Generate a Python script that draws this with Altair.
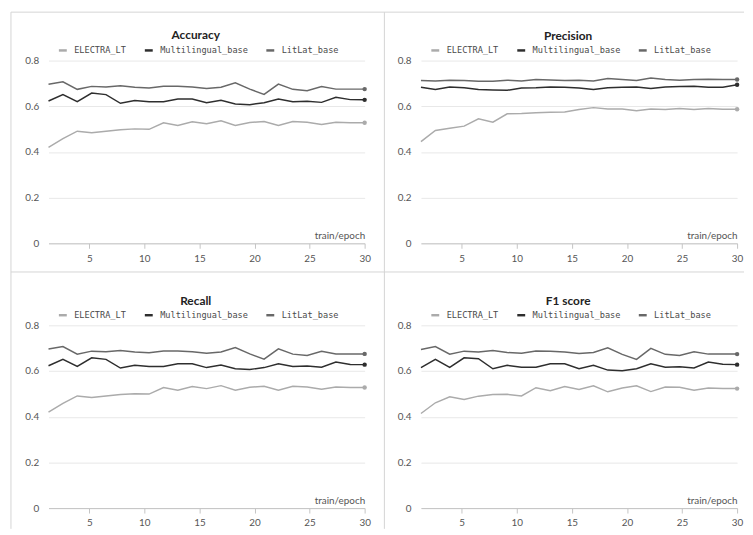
import altair as alt
import pandas as pd

# ---- data ----
epochs = [1.30, 2.61, 3.91, 5.22, 6.52, 7.83, 9.13, 10.43, 11.74, 13.04, 14.35, 15.65,
          16.96, 18.26, 19.57, 20.87, 22.17, 23.48, 24.78, 26.09, 27.39, 28.70, 30.0]

series_names = ["ELECTRA_LT", "Multilingual_base", "LitLat_base"]
series_colors = ["#ababab", "#2e2e2e", "#686868"]

x_ticks = [5, 10, 15, 20, 25, 30]
y_ticks = [0, 0.2, 0.4, 0.6, 0.8]

electra_acc = [0.420, 0.458, 0.491, 0.484, 0.491, 0.497, 0.501, 0.499, 0.528, 0.516, 0.532, 0.523,
               0.536, 0.516, 0.529, 0.533, 0.516, 0.533, 0.530, 0.520, 0.530, 0.528, 0.528]
multi_acc = [0.623, 0.651, 0.620, 0.658, 0.651, 0.613, 0.625, 0.620, 0.620, 0.632, 0.632, 0.615,
             0.626, 0.610, 0.607, 0.615, 0.632, 0.620, 0.622, 0.617, 0.639, 0.629, 0.628]
litlat_acc = [0.696, 0.707, 0.674, 0.687, 0.684, 0.690, 0.683, 0.680, 0.688, 0.688, 0.684, 0.678,
              0.683, 0.703, 0.675, 0.652, 0.697, 0.674, 0.668, 0.686, 0.675, 0.675, 0.675]

electra_prec = [0.445, 0.494, 0.504, 0.513, 0.545, 0.530, 0.567, 0.568, 0.572, 0.574, 0.575, 0.586,
                0.594, 0.588, 0.588, 0.580, 0.588, 0.586, 0.590, 0.586, 0.590, 0.587, 0.587]
multi_prec = [0.683, 0.673, 0.684, 0.681, 0.673, 0.671, 0.670, 0.680, 0.681, 0.684, 0.683, 0.680,
              0.673, 0.681, 0.683, 0.684, 0.678, 0.684, 0.686, 0.688, 0.683, 0.683, 0.694]
litlat_prec = [0.713, 0.711, 0.714, 0.713, 0.709, 0.709, 0.714, 0.711, 0.717, 0.715, 0.713, 0.714,
               0.711, 0.721, 0.717, 0.713, 0.724, 0.717, 0.714, 0.717, 0.718, 0.717, 0.717]

electra_rec = [0.420, 0.458, 0.491, 0.484, 0.491, 0.497, 0.501, 0.499, 0.528, 0.516, 0.532, 0.523,
               0.536, 0.516, 0.529, 0.533, 0.516, 0.533, 0.530, 0.520, 0.530, 0.528, 0.528]
multi_rec = [0.623, 0.651, 0.620, 0.658, 0.651, 0.613, 0.625, 0.620, 0.620, 0.632, 0.632, 0.615,
             0.626, 0.610, 0.607, 0.615, 0.632, 0.620, 0.622, 0.617, 0.639, 0.629, 0.628]
litlat_rec = [0.696, 0.707, 0.674, 0.687, 0.684, 0.690, 0.683, 0.680, 0.688, 0.688, 0.684, 0.678,
              0.683, 0.703, 0.675, 0.652, 0.697, 0.674, 0.668, 0.686, 0.675, 0.675, 0.675]

electra_f1 = [0.414, 0.461, 0.487, 0.475, 0.490, 0.497, 0.498, 0.491, 0.527, 0.514, 0.532, 0.519,
              0.535, 0.509, 0.526, 0.535, 0.510, 0.530, 0.529, 0.516, 0.526, 0.523, 0.523]
multi_f1 = [0.615, 0.651, 0.616, 0.658, 0.654, 0.610, 0.625, 0.617, 0.617, 0.632, 0.632, 0.610,
            0.625, 0.604, 0.601, 0.610, 0.632, 0.617, 0.619, 0.613, 0.639, 0.630, 0.628]
litlat_f1 = [0.694, 0.707, 0.674, 0.687, 0.683, 0.690, 0.681, 0.678, 0.688, 0.687, 0.683, 0.677,
             0.681, 0.702, 0.673, 0.651, 0.699, 0.673, 0.668, 0.684, 0.674, 0.674, 0.674]

# ---- styling ----
FONT = "Lato"
MONO = "DejaVu Sans Mono"
W, H = 320, 185
BORDER = "#d4d4d4"


def make_df(e, m, l):
    recs = []
    for name, vals in zip(series_names, [e, m, l]):
        for xv, v in zip(epochs, vals):
            recs.append({"epoch": xv, "value": v, "model": name})
    return pd.DataFrame(recs)


def panel(title, e, m, l, decor=False, title_dy=2):
    df = make_df(e, m, l)
    color = alt.Color(
        "model:N",
        scale=alt.Scale(domain=series_names, range=series_colors),
        legend=alt.Legend(
            title=None, orient="none", legendX=9, legendY=-16, direction="horizontal",
            labelFont=MONO, labelFontSize=8.7, labelColor="#4a4a4a",
            symbolType="stroke", symbolStrokeWidth=2.5, symbolSize=64,
            labelOffset=6, columnPadding=13,
        ),
    )
    x = alt.X(
        "epoch:Q",
        scale=alt.Scale(domain=[epochs[0], 30], nice=False, zero=False),
        axis=alt.Axis(
            values=x_ticks, grid=False, title="train/epoch",
            titleX=W, titleY=-3, titleAlign="right", titleBaseline="bottom",
            titleFont=FONT, titleFontSize=10, titleFontWeight="normal", titleColor="#555555",
            labelFont=FONT, labelFontSize=10, labelColor="#555555", labelFlush=False,
            domainColor="#c4c4c4", tickColor="#c4c4c4", tickSize=5, labelPadding=5,
        ),
    )
    y = alt.Y(
        "value:Q",
        scale=alt.Scale(domain=[0, 0.8], nice=False),
        axis=alt.Axis(
            values=y_ticks, format="~g", title=None, domain=False, ticks=False,
            labelPadding=10, labelFont=FONT, labelFontSize=10, labelColor="#555555",
            gridColor="#e8e8e8",
        ),
    )
    base = alt.Chart(df)
    lines = base.mark_line(strokeWidth=1.5).encode(x=x, y=y, color=color)
    last = base.transform_filter(alt.datum.epoch == 30).mark_circle(size=20, opacity=1).encode(
        x=x, y=y, color=alt.Color("model:N", scale=alt.Scale(domain=series_names, range=series_colors), legend=None)
    )
    layers = [lines, last]
    if decor:
        dd = alt.Data(values=[{"k": 0}])
        layers += [
            alt.Chart(dd).mark_rule(color=BORDER, strokeWidth=1).encode(
                x=alt.value(-38), y=alt.value(-49), y2=alt.value(474)),
            alt.Chart(dd).mark_rule(color=BORDER, strokeWidth=1).encode(
                x=alt.value(340), y=alt.value(-49), y2=alt.value(474)),
            alt.Chart(dd).mark_rule(color=BORDER, strokeWidth=1).encode(
                x=alt.value(-38), x2=alt.value(704), y=alt.value(-49)),
            alt.Chart(dd).mark_rule(color=BORDER, strokeWidth=1).encode(
                x=alt.value(-38), x2=alt.value(704), y=alt.value(214)),
        ]
    return alt.layer(*layers).properties(
        width=W, height=H,
        title=alt.TitleParams(text=title, anchor="middle", frame="group", dx=-11, dy=title_dy,
                              fontSize=12, font=FONT, fontWeight="bold", color="#222222", offset=4),
    )


acc = panel("Accuracy", electra_acc, multi_acc, litlat_acc, decor=True, title_dy=35)
prec = panel("Precision", electra_prec, multi_prec, litlat_prec)
rec = panel("Recall", electra_rec, multi_rec, litlat_rec)
f1 = panel("F1 score", electra_f1, multi_f1, litlat_f1)

chart = (
    alt.concat(acc, prec, rec, f1, columns=2, spacing={"row": 83, "column": 57}, bounds="flush")
    .resolve_legend(color="independent")
    .resolve_scale(color="independent")
    .properties(padding={"left": 2, "top": 0, "right": 0, "bottom": 0}, background="white")
    .configure_view(stroke=None)
)

chart.save("out.html", embed_options={"renderer": "svg", "actions": False})
